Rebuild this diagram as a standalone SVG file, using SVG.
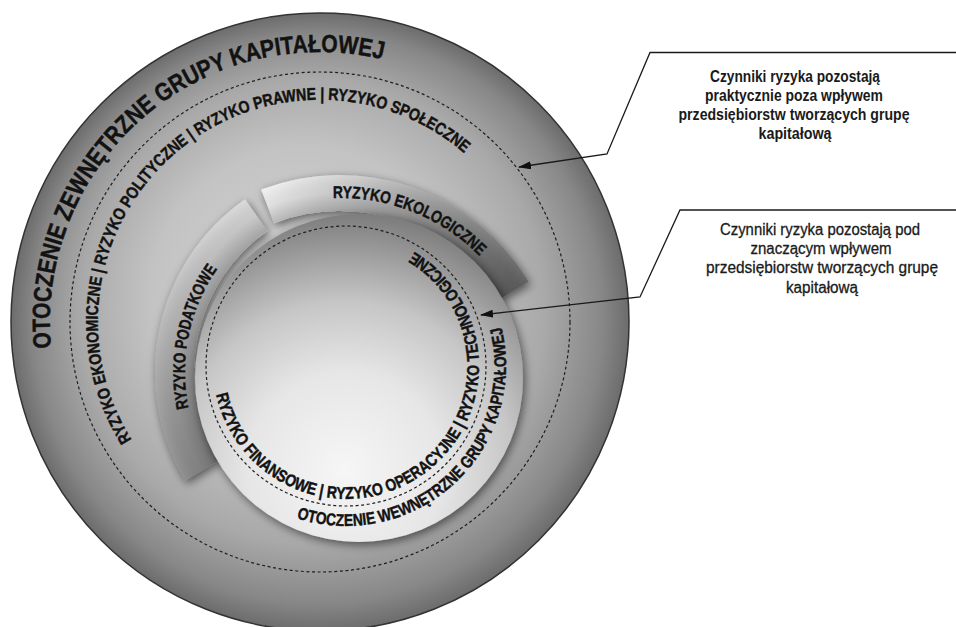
<svg xmlns="http://www.w3.org/2000/svg" width="956" height="627" viewBox="0 0 956 627">
<style>
.t{font-family:"Liberation Sans",Arial,sans-serif;font-weight:bold;fill:#121212;stroke:#121212;stroke-width:0.45;}
.dash{fill:none;stroke:#1e1e1e;stroke-width:1.2;stroke-dasharray:3 2.6;}
.conn{fill:none;stroke:#1a1a1a;stroke-width:1.3;}
.note{font-family:"Liberation Sans",Arial,sans-serif;font-size:16px;fill:#1a1a1a;text-anchor:middle;}
.nb{font-weight:bold;}
.nr{stroke:#1a1a1a;stroke-width:0.3;}
</style>
<defs>
<radialGradient id="gOuter" gradientUnits="userSpaceOnUse" cx="320" cy="322" r="310" fx="290" fy="280">
<stop offset="0" stop-color="#d4d4d4"/>
<stop offset="0.5" stop-color="#c3c3c3"/>
<stop offset="0.75" stop-color="#a9a9a9"/>
<stop offset="0.92" stop-color="#878787"/>
<stop offset="1" stop-color="#6b6b6b"/>
</radialGradient>
<radialGradient id="gDisk" gradientUnits="userSpaceOnUse" cx="345" cy="470" r="280">
<stop offset="0" stop-color="#f6f6f6"/>
<stop offset="0.35" stop-color="#e6e6e6"/>
<stop offset="0.6" stop-color="#c6c6c6"/>
<stop offset="0.85" stop-color="#8c8c8c"/>
<stop offset="1" stop-color="#6a6a6a"/>
</radialGradient>
<linearGradient id="gEko" gradientUnits="userSpaceOnUse" x1="262" y1="200" x2="530" y2="290">
<stop offset="0" stop-color="#f0f0f0"/>
<stop offset="0.3" stop-color="#cacaca"/>
<stop offset="0.65" stop-color="#8e8e8e"/>
<stop offset="1" stop-color="#545454"/>
</linearGradient>
<linearGradient id="gPod" gradientUnits="userSpaceOnUse" x1="250" y1="200" x2="195" y2="475">
<stop offset="0" stop-color="#d8d8d8"/>
<stop offset="0.5" stop-color="#b4b4b4"/>
<stop offset="1" stop-color="#858585"/>
</linearGradient>
<radialGradient id="gEkoShade" gradientUnits="userSpaceOnUse" cx="340" cy="395" r="220">
<stop offset="0.83" stop-color="#000" stop-opacity="0.22"/>
<stop offset="0.92" stop-color="#000" stop-opacity="0.05"/>
<stop offset="1" stop-color="#fff" stop-opacity="0.1"/>
</radialGradient>
<radialGradient id="gPodShade" gradientUnits="userSpaceOnUse" cx="366" cy="372" r="211">
<stop offset="0.81" stop-color="#000" stop-opacity="0.22"/>
<stop offset="0.91" stop-color="#000" stop-opacity="0.05"/>
<stop offset="1" stop-color="#fff" stop-opacity="0.1"/>
</radialGradient>
<filter id="shadow" x="-20%" y="-20%" width="140%" height="140%">
<feDropShadow dx="2" dy="3" stdDeviation="5" flood-color="#000" flood-opacity="0.55"/>
</filter>
<marker id="arr" markerWidth="13" markerHeight="8" refX="12" refY="4" orient="auto" markerUnits="userSpaceOnUse">
<path d="M0,0 L13,4 L0,8 Z" fill="#111"/>
</marker>
<path id="pTitle" d="M51.2,347.9 A270,270 0 0 1 412.3,68.3"/>
<path id="pRing" d="M131.7,439.6 A222,222 0 0 1 490.1,179.3"/>
<path id="pEko" d="M333.1,198.1 A197,197 0 0 1 490.9,268.4"/>
<path id="pPod" d="M188.6,408.1 A181,181 0 0 1 249.7,233.4"/>
<path id="pIn1" d="M216.1,394.6 A133,133 0 1 0 391.5,241.0"/>
<path id="pIn2" d="M296.6,518.2 A160,160 0 0 0 496.4,311.3"/>
</defs>
<rect width="956" height="627" fill="#fff"/>

<g id="outer-environment">
<circle cx="320" cy="322" r="309" fill="url(#gOuter)" stroke="#333" stroke-width="1.5"/>
<circle class="dash" cx="320" cy="322" r="250"/>
<text class="t" font-size="25"><textPath href="#pTitle" textLength="513" lengthAdjust="spacingAndGlyphs">OTOCZENIE ZEWNĘTRZNE GRUPY KAPITAŁOWEJ</textPath></text>
<text class="t" font-size="17"><textPath href="#pRing" textLength="630" lengthAdjust="spacingAndGlyphs">RYZYKO EKONOMICZNE | RYZYKO POLITYCZNE | RYZYKO PRAWNE | RYZYKO SPOŁECZNE</textPath></text>
</g>

<g id="arc-podatkowe">
<path d="M185.1,480.7 A211,211 0 0 1 245.0,199.2 L267.3,231.1 A172,172 0 0 0 218.6,460.6 Z" fill="url(#gPod)" filter="url(#shadow)"/>
<path d="M185.1,480.7 A211,211 0 0 1 245.0,199.2 L267.3,231.1 A172,172 0 0 0 218.6,460.6 Z" fill="url(#gPodShade)"/>
<text class="t" font-size="17"><textPath href="#pPod" textLength="146" lengthAdjust="spacingAndGlyphs">RYZYKO PODATKOWE</textPath></text>
</g>

<g id="arc-ekologiczne">
<path d="M261.2,189.6 A220,220 0 0 1 528.6,281.7 L497.7,300.2 A184,184 0 0 0 274.1,223.2 Z" fill="url(#gEko)" filter="url(#shadow)"/>
<path d="M261.2,189.6 A220,220 0 0 1 528.6,281.7 L497.7,300.2 A184,184 0 0 0 274.1,223.2 Z" fill="url(#gEkoShade)"/>
<text class="t" font-size="17"><textPath href="#pEko" textLength="162" lengthAdjust="spacingAndGlyphs">RYZYKO EKOLOGICZNE</textPath></text>
</g>

<g id="inner-environment">
<circle cx="359" cy="378" r="164" fill="url(#gDisk)" filter="url(#shadow)"/>
<circle class="dash" cx="346" cy="366" r="140"/>
<text class="t" font-size="17"><textPath href="#pIn1" textLength="526" lengthAdjust="spacingAndGlyphs">RYZYKO FINANSOWE | RYZYKO OPERACYJNE | RYZYKO TECHNOLOGICZNE</textPath></text>
<text class="t" font-size="17"><textPath href="#pIn2" textLength="341" lengthAdjust="spacingAndGlyphs">OTOCZENIE WEWNĘTRZNE GRUPY KAPITAŁOWEJ</textPath></text>
</g>

<g id="note-external">
<text class="note nb" x="795" y="81.5" textLength="170" lengthAdjust="spacingAndGlyphs">Czynniki ryzyka pozostają</text>
<text class="note nb" x="794" y="100.8" textLength="178" lengthAdjust="spacingAndGlyphs">praktycznie poza wpływem</text>
<text class="note nb" x="794" y="120" textLength="231" lengthAdjust="spacingAndGlyphs">przedsiębiorstw tworzących grupę</text>
<text class="note nb" x="795" y="139.3" textLength="73" lengthAdjust="spacingAndGlyphs">kapitałową</text>
</g>

<g id="note-internal">
<text class="note nr" x="820" y="235" textLength="200" lengthAdjust="spacingAndGlyphs">Czynniki ryzyka pozostają pod</text>
<text class="note nr" x="821" y="254.2" textLength="141" lengthAdjust="spacingAndGlyphs">znaczącym wpływem</text>
<text class="note nr" x="822" y="273.4" textLength="232" lengthAdjust="spacingAndGlyphs">przedsiębiorstw tworzących grupę</text>
<text class="note nr" x="822" y="292.7" textLength="72" lengthAdjust="spacingAndGlyphs">kapitałową</text>
</g>

<g id="connectors">
<path class="conn" d="M956,52.5 L650,52.5 L607,154 L519,167" marker-end="url(#arr)"/>
<path class="conn" d="M956,210 L680,210 L640,297 L481,315" marker-end="url(#arr)"/>
</g>
</svg>
